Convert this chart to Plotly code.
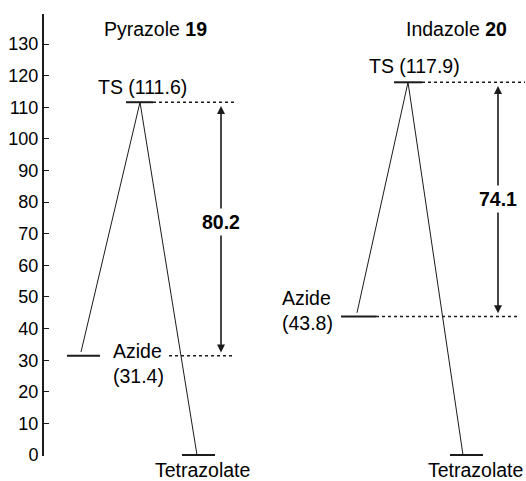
import plotly.graph_objects as go

# ---------------- data ----------------
systems = ["Pyrazole", "Indazole"]
compound_numbers = ["19", "20"]
states = ["Azide", "TS", "Tetrazolate"]
pyrazole_energy = [31.4, 111.6, 0.0]
indazole_energy = [43.8, 117.9, 0.0]
y_ticks = [0, 10, 20, 30, 40, 50, 60, 70, 80, 90, 100, 110, 120, 130]

energies = [pyrazole_energy, indazole_energy]

# ---------------- layout constants (x in pixel-like units) ----------------
panels = [
    dict(levels=[(67, 100), (126, 153), (182, 215)],
         link_start=81, apex=140, link_end=197,
         ts_dot=(153, 236), az_dot=(169, 235), arrow_x=221,
         ts_text_x=142, ts_shift=2,
         az_text_x=111, az_shift=-8,
         tet_text_x=202, title_x=155, gap_label_y=73.6),
    dict(levels=[(341, 376), (394, 422), (450, 483)],
         link_start=357, apex=408, link_end=463,
         ts_dot=(422, 525), az_dot=(376, 520), arrow_x=498,
         ts_text_x=414, ts_shift=3,
         az_text_x=280, az_shift=6,
         tet_text_x=475, title_x=456, gap_label_y=81.0),
]

INK = "#1b1b1b"
FONT = "Liberation Sans, Arial, sans-serif"
LABEL_SIZE = 19.5

fig = go.Figure()
annotations = []

for p, e, name, num in zip(panels, energies, systems, compound_numbers):
    az, ts, tet = e
    # solid levels
    xs, ys = [], []
    for (x0, x1), val in zip(p["levels"], e):
        xs += [x0, x1, None]
        ys += [val, val, None]
    fig.add_trace(go.Scatter(x=xs, y=ys, mode="lines",
                             line=dict(color=INK, width=2),
                             hoverinfo="skip", showlegend=False))
    # connecting lines
    fig.add_trace(go.Scatter(x=[p["link_start"], p["apex"], p["link_end"]],
                             y=[az + 1.2, ts, tet], mode="lines",
                             line=dict(color=INK, width=1),
                             hoverinfo="skip", showlegend=False))
    # dotted guide lines
    fig.add_trace(go.Scatter(x=[p["ts_dot"][0], p["ts_dot"][1], None, p["az_dot"][0], p["az_dot"][1]],
                             y=[ts, ts, None, az, az], mode="lines",
                             line=dict(color=INK, width=1.5, dash="3px,3px"),
                             hoverinfo="skip", showlegend=False))
    # double-headed arrow
    annotations.append(dict(x=p["arrow_x"], y=ts - 1.2, ax=p["arrow_x"], ay=az + 0.6,
                            xref="x", yref="y", axref="x", ayref="y",
                            text="", showarrow=True, arrowhead=2, arrowside="end+start",
                            arrowsize=1.0, arrowwidth=1.6, arrowcolor=INK))
    # barrier label
    annotations.append(dict(x=p["arrow_x"], y=p["gap_label_y"], xref="x", yref="y",
                            text=f"<b>{ts - az:.1f}</b>", showarrow=False,
                            bgcolor="white", borderpad=2,
                            font=dict(size=LABEL_SIZE, color="black", family=FONT)))
    # TS label
    annotations.append(dict(x=p["ts_text_x"], y=ts, xref="x", yref="y",
                            text=f"TS ({ts:.1f})", showarrow=False,
                            yanchor="bottom", yshift=p["ts_shift"],
                            font=dict(size=LABEL_SIZE, color="black", family=FONT)))
    # Azide label
    annotations.append(dict(x=p["az_text_x"], y=az, xref="x", yref="y",
                            text=f"Azide<br>({az:.1f})", showarrow=False,
                            xanchor="left", align="left", yanchor="middle",
                            yshift=p["az_shift"],
                            font=dict(size=LABEL_SIZE, color="black", family=FONT)))
    # Tetrazolate label
    annotations.append(dict(x=p["tet_text_x"], y=tet, xref="x", yref="y",
                            text=states[2], showarrow=False,
                            yanchor="middle", yshift=-15,
                            font=dict(size=LABEL_SIZE, color="black", family=FONT)))
    # panel title
    annotations.append(dict(x=p["title_x"], y=134.6, xref="x", yref="y",
                            text=f"{name} <b>{num}</b>", showarrow=False,
                            font=dict(size=LABEL_SIZE, color="black", family=FONT)))

fig.update_layout(
    width=526, height=481,
    margin=dict(l=44, r=0, t=14, b=25),
    paper_bgcolor="white", plot_bgcolor="white",
    showlegend=False,
    annotations=annotations,
    xaxis=dict(range=[44, 526], visible=False, fixedrange=True),
    yaxis=dict(range=[-0.3, 139.5], tickvals=y_ticks, ticktext=[str(t) for t in y_ticks],
               showgrid=False, zeroline=False, showline=True, linecolor=INK, linewidth=2,
               ticks="inside", ticklen=5, tickwidth=1, tickcolor=INK,
               tickfont=dict(size=18, color="black", family=FONT),
               fixedrange=True),
)

fig.write_html("out.html")
